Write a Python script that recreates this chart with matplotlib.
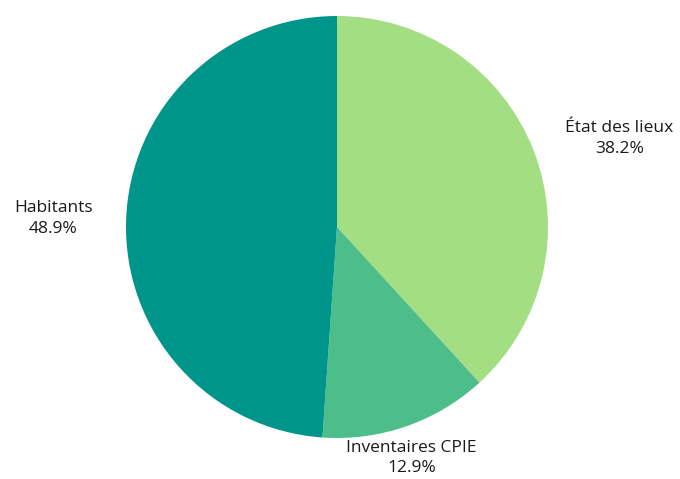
import matplotlib
matplotlib.use("Agg")
import matplotlib.pyplot as plt
import numpy as np

labels = ["État des lieux", "Inventaires CPIE", "Habitants"]
values = [38.2, 12.9, 48.9]
colors = ["#a3de83", "#4dbd8a", "#00958a"]

plt.rcParams['font.family'] = ['Open Sans', 'DejaVu Sans']

fig = plt.figure(figsize=(6.8, 4.79), dpi=100)
ax = fig.add_axes([126 / 680, 41 / 479, 422 / 680, 422 / 479])

wedges, _ = ax.pie(values, colors=colors, startangle=90, counterclock=False,
                   radius=1, wedgeprops=dict(linewidth=0))
ax.set_xlim(-1, 1)
ax.set_ylim(-1, 1)
ax.set_aspect('equal')

r = 1.16
for w, lab, v in zip(wedges, labels, values):
    ang = np.deg2rad((w.theta1 + w.theta2) / 2)
    x, y = r * np.cos(ang), r * np.sin(ang)
    c = np.cos(ang)
    if c > 0.5:
        ha = 'left'
    elif c < -0.5:
        ha = 'right'
    else:
        ha = 'center'
        x -= 0.03
    ax.text(x, y, f"{lab}\n{v}%", ha=ha, va='center', multialignment='center',
            fontsize=12.5, color='#1a1a1a', linespacing=1.4, clip_on=False)

fig.savefig("out.png", dpi=100)
